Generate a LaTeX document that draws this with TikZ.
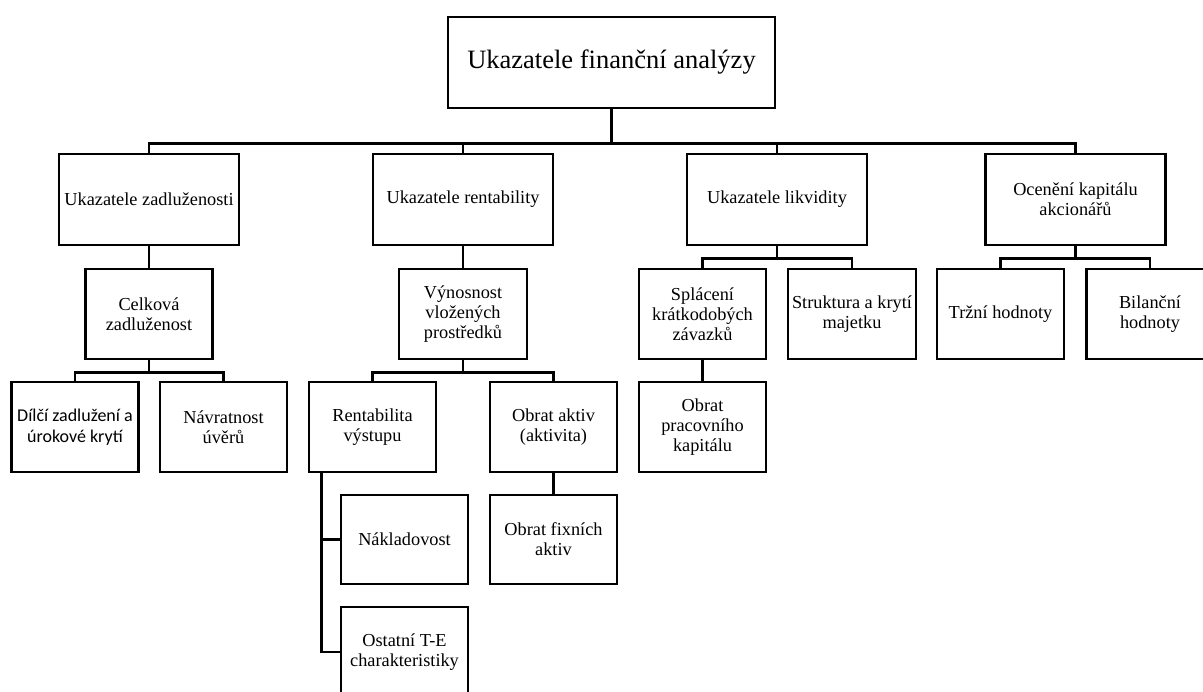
\documentclass[tikz,border=0pt]{standalone}
\usepackage{fontspec}
\setmainfont{Liberation Serif}
\newfontfamily\calibrilike{Carlito}
\usetikzlibrary{calc}
\tikzset{
  box/.style={draw, line width=2.8pt, align=center, inner sep=0pt, minimum width=127pt, minimum height=90pt, font=\fontsize{18.3}{20}\selectfont},
  headbox/.style={box, minimum width=180pt, minimum height=91pt},
  link/.style={line width=2.8pt, line join=miter}
}
\begin{document}
\begin{tikzpicture}[x=1pt,y=-1pt]
\useasboundingbox (0,0) rectangle (1203,692);
\clip (0,0) rectangle (1203,692);
% root
\node[box, minimum width=327pt, minimum height=91pt, font=\fontsize{26.5}{30}\selectfont] (top) at (611.5,62.5) {Ukazatele finanční analýzy};
% level 1
\node[headbox] (z1) at (149,199.5) {Ukazatele zadluženosti};
\node[headbox] (r1) at (463,199.5) {Ukazatele rentability};
\node[headbox] (l1) at (777,199.5) {Ukazatele likvidity};
\node[headbox] (o1) at (1075.5,199.5) {Ocenění kapitálu\\akcionářů};
% zadluženost
\node[box] (z2) at (149,314) {Celková\\zadluženost};
\node[box, font=\calibrilike\fontsize{18}{21}\selectfont] (z3a) at (75,427) {Dílčí zadlužení a\\úrokové krytí};
\node[box] (z3b) at (223.5,427) {Návratnost\\úvěrů};
% rentabilita
\node[box, minimum width=128pt] (r2) at (463,314) {Výnosnost\\vložených\\prostředků};
\node[box] (r3a) at (372.5,427) {Rentabilita\\výstupu};
\node[box] (r3b) at (553.5,427) {Obrat aktiv\\(aktivita)};
\node[box, minimum height=89pt] (r4a) at (404.5,539.5) {Nákladovost};
\node[box] (r4b) at (404.5,652) {Ostatní T-E\\charakteristiky};
\node[box, minimum height=89pt] (r4c) at (553.5,539.5) {Obrat fixních\\aktiv};
% likvidita
\node[box] (l2a) at (702.5,314) {Splácení\\krátkodobých\\závazků};
\node[box, minimum width=128pt] (l2b) at (852,314) {Struktura a krytí\\majetku};
\node[box] (l3) at (702.5,427) {Obrat\\pracovního\\kapitálu};
% oceneni
\node[box] (o2a) at (1000.5,314) {Tržní hodnoty};
\node[box] (o2b) at (1150,314) {Bilanční\\hodnoty};
% connectors
\foreach \c in {z1,r1,l1,o1} \draw[link] (top.south) -- ++(0,34) -| (\c.north);
\draw[link] (z1.south) -- (z2.north);
\foreach \c in {z3a,z3b} \draw[link] (z2.south) -- ++(0,12) -| (\c.north);
\draw[link] (r1.south) -- (r2.north);
\foreach \c in {r3a,r3b} \draw[link] (r2.south) -- ++(0,12) -| (\c.north);
\coordinate (r3stem) at ($(r3a.south west)+(14,0)$);
\draw[link] (r3stem) |- (r4a.west);
\draw[link] (r3stem) |- (r4b.west);
\draw[link] (r3b.south) -- (r4c.north);
\foreach \c in {l2a,l2b} \draw[link] (l1.south) -- ++(0,12) -| (\c.north);
\draw[link] (l2a.south) -- (l3.north);
\foreach \c in {o2a,o2b} \draw[link] (o1.south) -- ++(0,12) -| (\c.north);
\end{tikzpicture}
\end{document}
